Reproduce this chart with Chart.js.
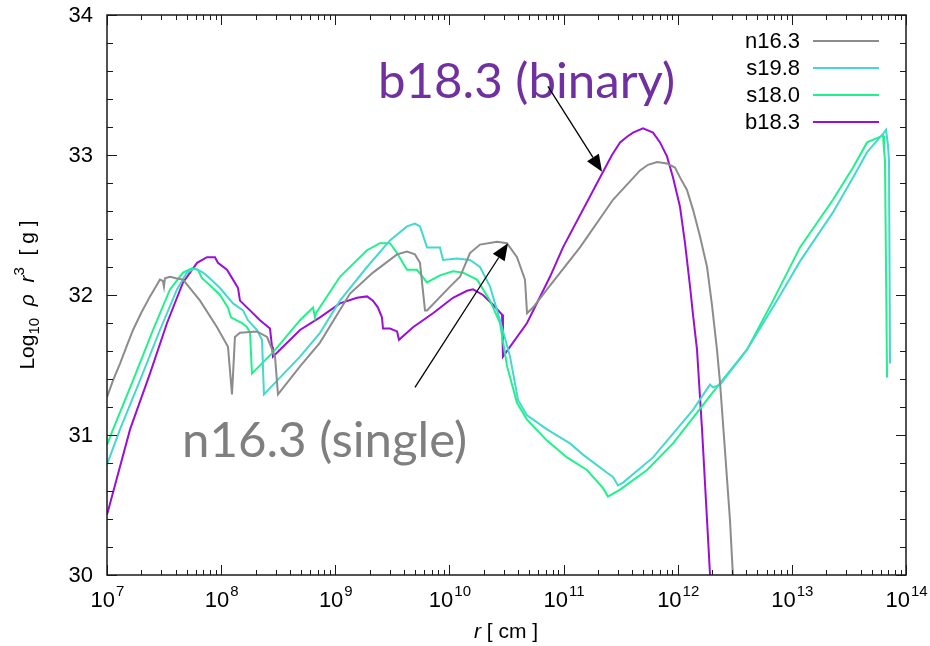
<!DOCTYPE html>
<html><head><meta charset="utf-8">
<script src="https://cdn.jsdelivr.net/npm/chart.js@4/dist/chart.umd.min.js"></script>
<style>html,body{margin:0;padding:0;background:#fff}canvas{display:block}</style>
</head><body><canvas id="c" width="930" height="646"></canvas>
<script>
// ---- data: log10(r [cm]) and log10(rho r^3 [g]) ----
const n163_logr = [7.000,7.053,7.114,7.175,7.228,7.298,7.377,7.421,7.464,7.490,7.499,7.508,7.552,7.605,7.666,7.815,7.964,8.060,8.095,8.121,8.165,8.314,8.402,8.472,8.498,8.691,8.866,9.129,9.330,9.541,9.628,9.698,9.742,9.786,9.804,10.005,10.093,10.180,10.268,10.417,10.504,10.592,10.662,10.680,10.732,10.855,11.144,11.433,11.670,11.740,11.819,11.906,11.976,12.020,12.081,12.134,12.195,12.257,12.300,12.344,12.371,12.414,12.458,12.490];
const n163_val  = [31.27,31.39,31.51,31.64,31.75,31.87,31.99,32.05,32.11,32.10,32.06,32.12,32.13,32.12,32.11,31.96,31.77,31.63,31.29,31.70,31.73,31.74,31.70,31.56,31.29,31.49,31.66,32.01,32.16,32.29,32.31,32.29,32.23,31.89,31.89,32.06,32.13,32.30,32.36,32.38,32.37,32.27,32.11,31.87,31.91,32.04,32.34,32.68,32.89,32.93,32.95,32.94,32.91,32.84,32.75,32.61,32.42,32.20,31.93,31.61,31.37,30.89,30.39,29.90];

const s198_logr = [7.000,7.114,7.289,7.464,7.613,7.701,7.771,7.841,7.885,7.990,8.104,8.192,8.235,8.314,8.358,8.375,8.691,8.866,9.041,9.278,9.479,9.628,9.698,9.742,9.804,9.917,9.944,10.066,10.180,10.268,10.356,10.443,10.531,10.601,10.680,10.855,11.056,11.170,11.381,11.433,11.477,11.521,11.784,12.134,12.283,12.309,12.371,12.607,12.870,13.071,13.360,13.536,13.659,13.755,13.807,13.825,13.842,13.851,13.860];
const s198_val  = [30.79,31.04,31.39,31.75,32.04,32.16,32.19,32.16,32.13,32.05,31.94,31.89,31.82,31.75,31.68,31.29,31.56,31.73,31.96,32.20,32.39,32.49,32.51,32.49,32.34,32.34,32.25,32.26,32.25,32.20,32.06,31.82,31.56,31.25,31.14,31.04,30.94,30.86,30.73,30.70,30.64,30.66,30.84,31.18,31.36,31.34,31.36,31.61,31.96,32.24,32.59,32.84,33.02,33.11,33.16,33.18,33.07,32.96,31.51];

const s180_logr = [7.000,7.053,7.228,7.403,7.552,7.666,7.745,7.797,7.832,7.902,7.990,8.060,8.086,8.183,8.227,8.253,8.270,8.454,8.691,8.805,8.822,8.831,9.041,9.278,9.392,9.479,9.541,9.628,9.716,9.804,9.917,10.031,10.119,10.242,10.356,10.443,10.505,10.592,10.680,10.855,11.030,11.205,11.346,11.389,11.495,11.731,11.959,12.169,12.371,12.607,12.835,13.071,13.360,13.536,13.659,13.746,13.799,13.807,13.816,13.834];
const s180_val  = [30.93,31.04,31.39,31.75,32.04,32.16,32.19,32.18,32.12,32.07,32.00,31.91,31.84,31.80,31.77,31.73,31.44,31.59,31.82,31.91,31.84,31.87,32.13,32.32,32.37,32.37,32.30,32.18,32.18,32.09,32.14,32.17,32.16,32.11,31.96,31.80,31.49,31.23,31.11,30.96,30.84,30.75,30.62,30.56,30.61,30.75,30.94,31.16,31.37,31.61,31.96,32.34,32.68,32.91,33.09,33.12,33.14,33.04,32.96,31.41];

const b183_logr = [7.000,7.202,7.377,7.526,7.666,7.789,7.876,7.946,7.972,8.051,8.104,8.148,8.165,8.253,8.340,8.428,8.446,8.454,8.542,8.691,8.866,9.041,9.190,9.278,9.330,9.374,9.409,9.418,9.479,9.541,9.558,9.681,9.856,10.031,10.154,10.207,10.294,10.382,10.461,10.469,10.680,10.881,10.995,11.346,11.424,11.495,11.556,11.608,11.696,11.784,11.845,11.906,11.959,12.020,12.064,12.108,12.134,12.169,12.213,12.257,12.290];
const b183_val  = [30.43,31.04,31.44,31.80,32.09,32.23,32.27,32.27,32.23,32.18,32.11,32.05,31.96,31.89,31.82,31.76,31.63,31.56,31.63,31.75,31.84,31.94,31.98,31.99,31.96,31.91,31.84,31.76,31.76,31.74,31.68,31.77,31.87,31.98,32.03,32.04,32.00,31.93,31.86,31.56,31.80,32.13,32.34,32.88,33.00,33.09,33.13,33.16,33.19,33.16,33.09,32.99,32.84,32.63,32.37,32.06,31.86,31.61,31.04,30.39,29.90];

const seriesNames  = ['n16.3','s19.8','s18.0','b18.3'];
const seriesColors = ['#8c8c8c','#45d8cc','#1ef28a','#9a0fd8'];
const yTickValues = [30,31,32,33,34];
const xTickExponents = [7,8,9,10,11,12,13,14];

// annotations (data coords: log10 r, value)
const annoBinary = {text:'b18.3 (binary)', lr:9.374, v:33.41, width:297, color:'#7030a0', arrow:[10.863,33.49,11.337,32.88]};
const annoSingle = {text:'n16.3 (single)', lr:7.657, v:30.84, width:285, color:'#7f7f7f', arrow:[9.698,31.34,10.513,32.37]};

function pts(lr, v){ return lr.map((e,i)=>({x:Math.pow(10,e), y:v[i]})); }
const allLogr = [n163_logr, s198_logr, s180_logr, b183_logr];
const allVal  = [n163_val, s198_val, s180_val, b183_val];

const datasets = seriesNames.map((n,i)=>({
  label:n, data:pts(allLogr[i], allVal[i]), borderColor:seriesColors[i], backgroundColor:seriesColors[i],
  borderWidth:2, pointRadius:0, showLine:true, tension:0, fill:false
}));

const AX_FONT = '"Liberation Sans", Arial, sans-serif';

const decor = {
  id:'decor',
  beforeDraw(chart){
    const c=chart.ctx; c.save(); c.fillStyle='#fff'; c.fillRect(0,0,chart.width,chart.height); c.restore();
  },
  afterDraw(chart){
    const c=chart.ctx, a=chart.chartArea, xs=chart.scales.x, ys=chart.scales.y;
    c.save();
    // frame
    c.strokeStyle='#1a1a1a'; c.lineWidth=1.5;
    c.strokeRect(a.left, a.top, a.right-a.left, a.bottom-a.top);
    // y ticks
    c.lineWidth=1;
    for(let k=0;k<=20;k++){
      const v=30+k*0.2; const y=Math.round(ys.getPixelForValue(v))+0.5;
      const L = (k%5===0)?10:6;
      c.beginPath(); c.moveTo(a.left,y); c.lineTo(a.left+L,y); c.moveTo(a.right,y); c.lineTo(a.right-L,y); c.stroke();
    }
    // x ticks
    for(const e of xTickExponents){
      for(let m=1;m<=9;m++){
        if(e===14 && m>1) break;
        const x=Math.round(xs.getPixelForValue(m*Math.pow(10,e)))+0.5;
        const L=(m===1)?10:5;
        c.beginPath(); c.moveTo(x,a.bottom); c.lineTo(x,a.bottom-L); c.moveTo(x,a.top); c.lineTo(x,a.top+L); c.stroke();
      }
    }
    // y tick labels
    c.fillStyle='#000'; c.font='22px '+AX_FONT; c.textAlign='right'; c.textBaseline='middle';
    for(const v of yTickValues){ c.fillText(String(v), a.left-14, ys.getPixelForValue(v)+1); }
    // x tick labels with superscript
    c.textBaseline='alphabetic';
    for(const e of xTickExponents){
      const x=xs.getPixelForValue(Math.pow(10,e));
      c.font='22px '+AX_FONT; const w1=c.measureText('10').width;
      c.font='15px '+AX_FONT; const w2=c.measureText(String(e)).width;
      const x0=x-(w1+w2)/2;
      c.textAlign='left';
      c.font='22px '+AX_FONT; c.fillText('10', x0, 607);
      c.font='15px '+AX_FONT; c.fillText(String(e), x0+w1+1, 596);
    }
    // x title
    c.font='italic 21px '+AX_FONT; const wr=c.measureText('r').width;
    c.font='21px '+AX_FONT; const wrest=c.measureText(' [ cm ]').width;
    let tx=506 - (wr+wrest)/2;
    c.textAlign='left';
    c.font='italic 21px '+AX_FONT; c.fillText('r', tx, 638);
    c.font='21px '+AX_FONT; c.fillText(' [ cm ]', tx+wr, 638);
    // y title rotated
    c.save();
    c.translate(34, 295);
    c.rotate(-Math.PI/2);
    const parts=[
      {t:'Log', f:'21px', dy:0},
      {t:'10', f:'15px', dy:5},
      {t:'  ', f:'21px', dy:0},
      {t:'ρ', f:'italic 21px', dy:0},
      {t:'  ', f:'21px', dy:0},
      {t:'r', f:'italic 21px', dy:0},
      {t:'3', f:'15px', dy:-10},
      {t:'  [ g ]', f:'21px', dy:0}
    ];
    let tot=0; for(const p of parts){ c.font=p.f+' '+AX_FONT; p.w=c.measureText(p.t).width; tot+=p.w; }
    let px=-tot/2;
    for(const p of parts){ c.font=p.f+' '+AX_FONT; c.fillText(p.t, px, p.dy); px+=p.w; }
    c.restore();
    // legend (gnuplot style)
    c.font='22px '+AX_FONT; c.textAlign='right'; c.textBaseline='middle';
    seriesNames.forEach((n,i)=>{
      const y=41+i*27;
      c.fillStyle='#000'; c.fillText(n, 800, y+1);
      c.strokeStyle=seriesColors[i]; c.lineWidth=2;
      c.beginPath(); c.moveTo(813,y); c.lineTo(879,y); c.stroke();
    });
    // annotations
    for(const an of [annoBinary, annoSingle]){
      c.font='48px Lato, "Open Sans", sans-serif';
      const w=c.measureText(an.text).width;
      const size=48*an.width/w;
      c.font=size.toFixed(1)+'px Lato, "Open Sans", sans-serif';
      c.fillStyle=an.color; c.textAlign='left'; c.textBaseline='alphabetic';
      c.fillText(an.text, xs.getPixelForValue(Math.pow(10,an.lr)), ys.getPixelForValue(an.v));
      const [l1,v1,l2,v2]=an.arrow;
      const x1=xs.getPixelForValue(Math.pow(10,l1)), y1=ys.getPixelForValue(v1);
      const x2=xs.getPixelForValue(Math.pow(10,l2)), y2=ys.getPixelForValue(v2);
      const ang=Math.atan2(y2-y1,x2-x1), HL=17, HW=7;
      const bx=x2-HL*Math.cos(ang), by=y2-HL*Math.sin(ang);
      c.strokeStyle='#000'; c.fillStyle='#000'; c.lineWidth=1.3;
      c.beginPath(); c.moveTo(x1,y1); c.lineTo(bx,by); c.stroke();
      c.beginPath(); c.moveTo(x2,y2);
      c.lineTo(bx+HW*Math.sin(ang), by-HW*Math.cos(ang));
      c.lineTo(bx-HW*Math.sin(ang), by+HW*Math.cos(ang));
      c.closePath(); c.fill();
    }
    c.restore();
  }
};

new Chart(document.getElementById('c'), {
  type:'scatter',
  data:{datasets},
  options:{
    responsive:false, devicePixelRatio:1, animation:false,
    layout:{padding:{left:107, top:15, right:24, bottom:71}},
    plugins:{legend:{display:false}, tooltip:{enabled:false}},
    scales:{
      x:{type:'logarithmic', min:1e7, max:1e14, display:false},
      y:{type:'linear', min:30, max:34, display:false}
    }
  },
  plugins:[decor]
});
</script></body></html>
